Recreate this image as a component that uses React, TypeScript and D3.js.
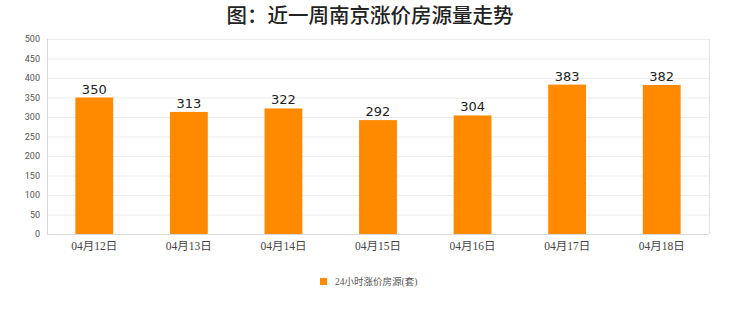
import React from "react";
import * as d3 from "d3";

const categories = ["04月12日", "04月13日", "04月14日", "04月15日", "04月16日", "04月17日", "04月18日"];
const values = [350, 313, 322, 292, 304, 383, 382];
const yTicks = [0, 50, 100, 150, 200, 250, 300, 350, 400, 450, 500];
const title = "图：近一周南京涨价房源量走势";
const legendLabel = "24小时涨价房源(套)";

export default function App() {
  const W = 740, H = 312;
  const left = 47, right = 709, top = 39, bottom = 234;
  const x = d3.scaleBand<string>().domain(categories).range([left, right]).paddingInner(0.6).paddingOuter(0.3);
  const y = d3.scaleLinear().domain([0, 500]).range([bottom, top]);
  const orange = "#FF8A00";
  return (
    <svg width={W} height={H} style={{ position: "absolute", left: 0, top: 0, background: "#fff" }}>
      <text x={370} y={23} textAnchor="middle" fontSize={20.5} fontWeight={500} fontFamily="'Noto Sans CJK SC', sans-serif" fill="#222">{title}</text>
      {yTicks.map(t => (
        <g key={t}>
          <line x1={left} x2={right} y1={y(t) + 0.5} y2={y(t) + 0.5} stroke="#ececec" />
          <text x={40} y={y(t) + 3} textAnchor="end" fontSize={9} fontFamily="Roboto, sans-serif" fill="#555">{t}</text>
        </g>
      ))}
      <line x1={right + 0.5} x2={right + 0.5} y1={top} y2={bottom} stroke="#e0e0e0" />
      <line x1={left + 0.5} x2={left + 0.5} y1={top} y2={bottom} stroke="#d8d8d8" />
      <line x1={left} x2={right} y1={bottom + 0.5} y2={bottom + 0.5} stroke="#d8d8d8" />
      {categories.map((c, i) => (
        <g key={c}>
          <rect x={x(c)} y={y(values[i])} width={x.bandwidth()} height={bottom - y(values[i])} fill={orange} />
          <text x={x(c)! + x.bandwidth() / 2} y={y(values[i]) - 4} textAnchor="middle" fontSize={13} fontFamily="'DejaVu Sans', sans-serif" fill="#222">{values[i]}</text>
          <text x={x(c)! + x.bandwidth() / 2} y={250} textAnchor="middle" fontSize={11.5} fontFamily="'Liberation Serif', 'Noto Sans CJK SC', serif" fill="#444">{c}</text>
        </g>
      ))}
      <rect x={320} y={278} width={7} height={7} fill={orange} />
      <text x={335} y={285} fontSize={9.5} fontFamily="'Liberation Serif', 'Noto Sans CJK SC', serif" fill="#555">{legendLabel}</text>
    </svg>
  );
}
